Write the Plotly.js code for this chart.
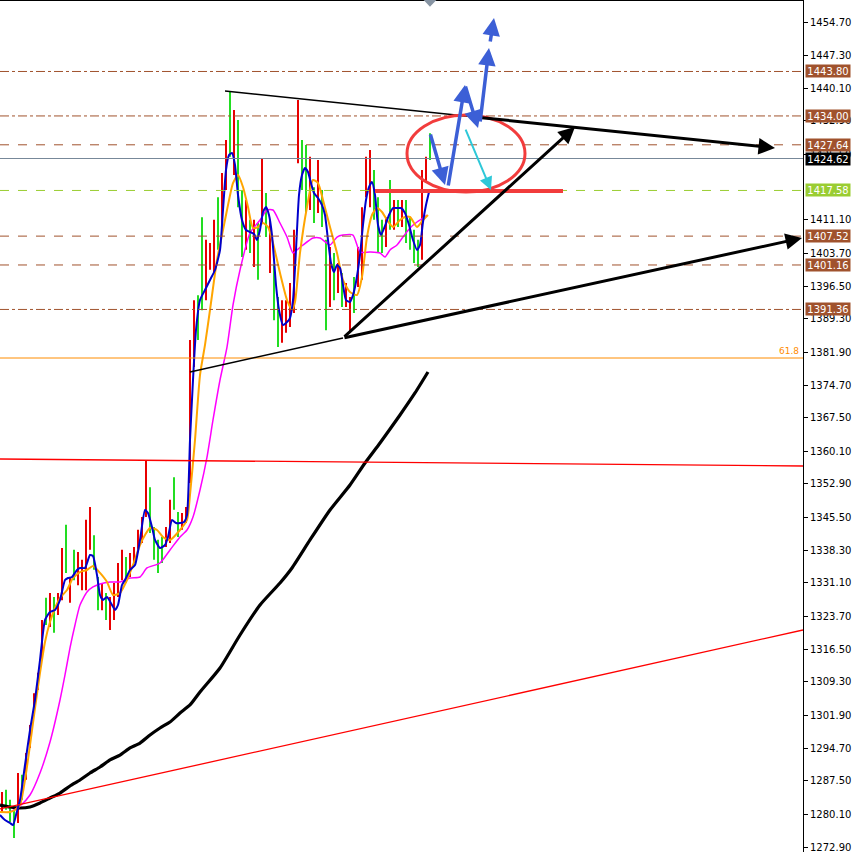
<!DOCTYPE html>
<html><head><meta charset="utf-8">
<script src="https://cdn.plot.ly/plotly-3.0.1.min.js"></script>
<style>html,body{margin:0;padding:0;background:#fff;}#chart{width:852px;height:852px;}</style>
</head><body><div id="chart"></div>
<script>
// ---- price bars ----
const barHigh = [1285.0,1285.5,1283.3,1281.1,1289.2,1288.8,1293.6,1299.8,1306.8,1311.3,
1322.9,1327.8,1328.9,1328.0,1328.9,1338.8,1343.9,1332.2,1338.4,1337.9,
1336.2,1345.0,1347.8,1341.6,1332.4,1331.1,1328.9,1328.0,1331.1,1335.5,
1338.4,1336.8,1337.7,1339.0,1342.8,1345.6,1358.2,1352.2,1343.4,1340.6,
1341.2,1343.4,1349.4,1354.4,1346.7,1346.5,1347.8,1384.6,1393.4,1394.5,
1411.7,1406.7,1406.0,1411.1,1416.1,1421.4,1428.7,1439.3,1435.3,1433.1,
1417.7,1415.5,1411.1,1411.1,1410.4,1424.7,1417.0,1411.1,1401.2,1394.1,
1393.4,1393.4,1397.2,1408.9,1437.5,1428.7,1427.6,1425.0,1418.3,1424.3,
1417.7,1406.7,1405.1,1403.8,1401.6,1399.4,1397.2,1394.1,1398.5,1405.1,
1413.9,1425.0,1426.5,1422.1,1416.1,1411.1,1411.7,1419.9,1415.5,1415.5,
1415.5,1415.5,1411.7,1408.9,1406.7,1422.1,1425.0,1430.2];
const barLow = [1280.4,1281.1,1278.4,1274.9,1278.2,1283.3,1287.7,1294.7,1302.4,1307.5,
1314.1,1321.8,1321.4,1320.1,1324.0,1327.3,1333.3,1326.7,1331.7,1330.6,
1329.5,1329.5,1338.4,1334.0,1325.1,1325.1,1322.9,1320.7,1322.9,1328.0,
1331.7,1331.1,1332.4,1335.5,1338.4,1339.9,1345.6,1342.1,1336.2,1333.3,
1335.5,1339.0,1339.9,1347.2,1341.2,1342.8,1344.3,1353.1,1378.7,1384.6,
1391.2,1393.4,1400.1,1399.4,1404.5,1408.2,1417.7,1425.0,1421.0,1413.9,
1402.9,1404.5,1403.8,1400.7,1397.9,1410.4,1407.3,1399.4,1389.0,1383.1,
1384.0,1386.2,1387.5,1390.6,1423.6,1417.7,1412.6,1413.3,1410.4,1412.6,
1409.5,1386.8,1391.9,1393.4,1395.0,1391.9,1391.9,1386.2,1390.6,1396.3,
1397.9,1416.1,1413.9,1411.1,1403.8,1403.8,1405.1,1408.9,1408.9,1409.5,
1409.5,1406.0,1404.5,1401.6,1400.7,1402.3,1419.2,1424.3];
const barOpen = [1281.5,1284.5,1282.5,1280.0,1279.5,1288.0,1288.5,1295.5,1303.0,1308.0,
1315.5,1326.5,1322.5,1327.0,1325.0,1328.5,1342.0,1327.5,1337.0,1331.5,
1330.5,1331.0,1339.5,1340.5,1331.5,1326.0,1328.0,1321.5,1324.0,1329.0,
1332.5,1336.0,1333.0,1336.0,1339.0,1340.5,1346.5,1351.0,1342.5,1339.5,
1340.5,1339.5,1341.0,1353.5,1346.0,1343.5,1345.0,1355.0,1380.0,1393.5,
1410.0,1395.0,1401.0,1401.0,1415.0,1410.0,1419.0,1437.0,1423.0,1431.0,
1416.0,1406.0,1410.0,1402.0,1409.0,1412.0,1416.0,1401.0,1400.0,1393.0,
1385.0,1387.0,1388.5,1392.0,1425.0,1427.5,1426.0,1414.5,1417.5,1414.0,
1417.0,1405.0,1393.0,1402.5,1396.0,1398.5,1392.5,1387.0,1397.5,1397.5,
1399.5,1417.0,1415.0,1421.0,1415.0,1410.0,1406.0,1418.5,1410.0,1414.5,
1410.5,1414.5,1410.5,1408.0,1406.0,1403.5,1420.0,1429.5];
const barClose = [1284.0,1282.0,1279.5,1276.5,1288.0,1284.5,1292.5,1299.0,1306.0,1310.5,
1321.5,1323.0,1327.5,1321.5,1328.0,1337.0,1335.0,1331.0,1333.0,1336.5,
1335.0,1343.0,1346.0,1335.0,1326.0,1330.0,1324.0,1327.0,1330.0,1334.5,
1337.5,1332.0,1337.0,1338.5,1342.0,1345.0,1356.0,1343.5,1337.0,1334.5,
1336.5,1343.0,1348.0,1348.0,1342.0,1346.0,1347.0,1382.0,1392.0,1386.0,
1393.0,1405.0,1405.0,1410.0,1406.0,1420.0,1427.0,1427.0,1433.0,1416.0,
1405.0,1414.0,1405.0,1409.5,1399.5,1423.0,1408.5,1410.0,1390.5,1384.5,
1392.0,1392.5,1396.0,1407.0,1436.0,1419.0,1414.0,1424.0,1411.5,1423.0,
1410.5,1389.0,1404.0,1394.5,1400.5,1393.0,1396.5,1393.0,1391.5,1404.0,
1412.5,1424.0,1425.0,1412.5,1405.0,1405.0,1411.0,1410.0,1414.5,1410.5,
1414.5,1407.0,1405.5,1402.5,1401.5,1420.5,1424.5,1424.62];

// ---- moving averages (x in bar units) ----
const maBlueX = [-0.5,0.75,2,2.75,3.5,4.5,5.75,7,8.25,9.5,10.75,12,13.25,14.5,15.75,16.5,17.5,18.75,19.5,20.75,22,22.75,23.75,24.5,25.25,26.25,27.5,28.25,29,30,30.75,32,33.25,34.5,35.75,36.5,37.5,38.25,39.5,40.75,41.5,42.5,43.5,44.5,45.5,46.25,47,47.75,48.5,49.5,50.75,52,53.25,54.5,55.25,56,56.75,57.5,58.25,59,60,61,62,63,63.75,64.5,65.25,66,66.75,67.5,68.5,69.25,70.25,71.25,72,72.75,73.5,74.25,75,75.75,76.5,77.25,78,79,80,80.75,81.5,82.25,83,83.75,84.5,85.25,86,87,87.75,88.5,89.5,90.25,91,91.75,92.5,93.25,94,94.75,95.75,96.75,97.75,98.75,99.75,100.75,101.75,102.75,103.75,104.5,105.25,106,106.75];
const maBlueY = [1279.96,1278.85,1278.19,1277.75,1279.96,1283.26,1290.97,1298.68,1305.30,1314.11,1322.93,1324.69,1325.13,1327.33,1331.74,1332.18,1332.40,1333.95,1334.39,1334.39,1337.25,1337.03,1332.85,1328.44,1327.33,1328.00,1326.23,1325.13,1326.23,1330.64,1331.74,1333.95,1335.05,1340.56,1347.17,1346.51,1343.42,1340.56,1338.79,1339.45,1341.22,1344.96,1344.30,1344.30,1344.52,1346.06,1362.59,1375.81,1386.83,1393.44,1395.65,1397.85,1400.05,1404.46,1413.27,1422.09,1425.39,1425.84,1423.19,1416.58,1411.07,1408.87,1408.43,1407.99,1406.66,1408.87,1412.83,1413.93,1412.17,1407.76,1396.75,1391.24,1387.93,1388.59,1389.47,1393.44,1404.46,1416.58,1420.99,1422.53,1421.65,1419.22,1417.02,1415.92,1414.37,1412.17,1406.66,1401.60,1399.61,1401.16,1400.49,1396.75,1393.44,1393.00,1394.54,1397.41,1403.36,1409.97,1415.48,1418.34,1419.44,1416.58,1409.97,1407.76,1409.75,1412.17,1413.71,1413.71,1413.71,1412.61,1409.97,1406.66,1404.46,1405.56,1410.63,1414.37,1417.24];
const maOrangeX = [-0.5,2,3.25,4.5,5.75,7,8.25,9.5,10.75,12,13.25,14.5,16.25,17.75,19.5,21.25,22.75,24.5,26.25,27.75,29.5,31.25,32.75,34.5,35.75,37,38.75,40.25,42,44.5,46.25,47,48.25,49.5,50.75,52,53.75,55,56.25,57.75,59,60.25,61.5,62.75,64,65.25,66.5,67.75,69.5,71.25,72.5,73.25,74.5,76.25,77.75,79,80.25,82,83.75,85.25,87,88.75,90,91.25,92.5,93.75,95,96.25,97.75,99.5,100.75,102,103.75,105.25,106.5];
const maOrangeY = [1280.62,1280.62,1281.06,1282.16,1287.67,1295.38,1303.53,1311.25,1318.08,1322.49,1325.57,1327.78,1329.54,1332.18,1333.50,1333.95,1334.83,1333.29,1331.30,1328.44,1328.88,1331.74,1335.05,1339.45,1341.66,1343.20,1342.76,1341.22,1340.56,1342.76,1344.96,1350.47,1362.59,1376.91,1383.53,1391.24,1402.26,1407.76,1413.27,1419.22,1420.99,1418.34,1413.93,1409.31,1409.53,1410.41,1409.53,1406.00,1399.39,1393.44,1391.24,1393.00,1403.80,1413.93,1419.89,1419.22,1415.48,1409.53,1403.80,1397.85,1395.20,1394.54,1398.51,1407.32,1412.17,1413.71,1412.83,1411.07,1409.53,1411.07,1411.73,1411.73,1409.53,1411.07,1412.17];
const maMagentaX = [2,4.5,7,9.5,12,14.5,15.75,17,18.25,19.5,21.25,22.75,24.5,27,29.5,32,34.5,36.25,39.5,42,44.5,46.25,47.75,49.5,51.25,52.75,54.5,56.25,57.75,59.5,62,64.5,66.25,67.75,69.5,71.25,72.75,73.75,75.25,77.75,79.5,82,83.75,85.25,87.75,89.5,92,94.5,95.75,97,98.75,100.25,102,103.75,105.25,106.25];
const maMagentaY = [1280.62,1281.94,1284.36,1289.21,1296.04,1305.30,1310.81,1316.76,1321.83,1326.23,1329.10,1330.20,1330.86,1331.30,1331.30,1332.18,1332.40,1334.39,1335.49,1338.35,1341.22,1342.76,1345.63,1351.57,1358.84,1367.00,1375.81,1383.08,1392.34,1400.05,1408.21,1411.07,1413.27,1413.27,1410.41,1407.32,1403.80,1404.46,1405.56,1407.11,1407.11,1405.56,1407.32,1407.76,1407.76,1404.02,1404.02,1403.80,1402.92,1404.46,1405.56,1407.32,1409.31,1410.63,1411.51,1412.17];
const maBlackX = [-0.5,2,4.5,7,9.5,12,14.5,17,19.5,22,24.5,27,29.5,32,34.5,37,39.5,42,44.5,47,49.5,54.5,59.5,64.5,69.5,72.5,77,82,87,90.75,94.5,99.5,103.25,106.5];
const maBlackY = [1282.16,1281.72,1281.50,1281.72,1282.60,1283.70,1284.80,1286.35,1287.67,1289.21,1290.53,1292.08,1293.17,1294.72,1295.81,1297.58,1299.13,1300.45,1302.43,1304.20,1307.06,1312.35,1319.62,1326.23,1331.08,1334.39,1340.56,1347.17,1352.68,1357.53,1361.94,1368.11,1372.96,1377.58];

// ---- price levels ----
const levelPrices = [1443.80, 1434.00, 1427.64, 1407.52, 1401.16, 1391.36];
const levelDash = ['dashdot','dashdot','dash','dash','dash','dashdot'];
const greenLevel = 1417.58;
const bidPrice = 1424.62;
const fibPrice = 1380.66;
const fibText = '61.8';
const tickVals = [1272.90,1280.10,1287.50,1294.70,1301.90,1309.30,1316.50,1323.70,1331.10,1338.30,1345.50,1352.90,1360.10,1367.50,1374.70,1381.90,1389.30,1396.50,1403.70,1411.10,1425.50,1432.90,1440.10,1447.30,1454.70];

// ---- drawn objects (bar units, price) ----
const redFlatLine = {x:[-0.5,200.25], y:[1358.40,1356.86]};
const redRiseLine = {x:[-0.5,200.25], y:[1281.28,1320.72]};
const topThin = {x:[55.75,119.5], y:[1439.50,1433.66]};
const topArrow = {x:[119.5,193.25], y:[1433.66,1426.94]};
const lowThin = {x:[47,85.25], y:[1377.58,1385.07]};
const lowArrow = {x:[85.25,200], y:[1385.07,1407.11]};
const riseArrow = {x:[85.25,143.25], y:[1385.07,1431.56]};
const blueArrows = [
  {x:[107,110.75], y:[1430.24,1418.78]},
  {x:[111.5,115.75], y:[1418.34,1440.82]},
  {x:[115.75,119], y:[1440.82,1431.34]},
  {x:[119.5,121.75], y:[1432.45,1448.97]},
  {x:[122,123], y:[1450.07,1455.58]}
];
const cyanArrow = {x:[115.75,122.25], y:[1431.34,1417.68]};
const ellipse = {x:[101.25,130.75], y:[1417.24,1434.21]};
const redBase = {x:[93.25,140.25], y:[1417.46,1417.46]};
const topMarkerX = 107;

const SIENNA = '#a0522d';
const FONT = 'DejaVu Sans';

const traces = [
  {type:'ohlc', open:barOpen, high:barHigh, low:barLow, close:barClose, tickwidth:0,
   increasing:{line:{color:'#e80000', width:2}}, decreasing:{line:{color:'#22dd22', width:2}},
   hoverinfo:'skip'},
  {type:'scatter', mode:'lines', x:maBlackX, y:maBlackY, line:{color:'#000', width:3.2, shape:'spline', smoothing:0.6}, hoverinfo:'skip'},
  {type:'scatter', mode:'lines', x:maMagentaX, y:maMagentaY, line:{color:'#ff00ff', width:1.5, shape:'spline', smoothing:0.6}, hoverinfo:'skip'},
  {type:'scatter', mode:'lines', x:maOrangeX, y:maOrangeY, line:{color:'#ffa500', width:2, shape:'spline', smoothing:0.6}, hoverinfo:'skip'},
  {type:'scatter', mode:'lines', x:maBlueX, y:maBlueY, line:{color:'#0000cc', width:2, shape:'spline', smoothing:0.5}, hoverinfo:'skip'}
];

const shapes = [];
levelPrices.forEach((p,i)=>shapes.push({type:'line', xref:'paper', x0:0, x1:1, yref:'y', y0:p, y1:p, layer:'above', line:{color:SIENNA, width:1, dash:levelDash[i]}}));
shapes.push({type:'line', xref:'paper', x0:0, x1:1, yref:'y', y0:greenLevel, y1:greenLevel, layer:'above', line:{color:'#9acd32', width:1, dash:'dash'}});
shapes.push({type:'line', xref:'paper', x0:0, x1:1, yref:'y', y0:bidPrice, y1:bidPrice, layer:'above', line:{color:'#778899', width:1}});
shapes.push({type:'line', xref:'paper', x0:0, x1:1, yref:'y', y0:fibPrice, y1:fibPrice, layer:'above', line:{color:'#ff8c00', width:1}});
function seg(o, color, w){ shapes.push({type:'line', xref:'x', yref:'y', x0:o.x[0], x1:o.x[1], y0:o.y[0], y1:o.y[1], layer:'above', line:{color:color, width:w}}); }
seg(redFlatLine, '#ff0000', 1.3);
seg(redRiseLine, '#ff0000', 1.3);
seg(topThin, '#000', 1.5);
seg(lowThin, '#000', 1.5);
seg(redBase, '#f23c3c', 4);
shapes.push({type:'circle', xref:'x', yref:'y', x0:ellipse.x[0], x1:ellipse.x[1], y0:ellipse.y[0], y1:ellipse.y[1], layer:'above', line:{color:'#f23c3c', width:3}});
shapes.push({type:'line', xref:'paper', yref:'paper', x0:0, x1:1, y0:1, y1:1, line:{color:'#000', width:2}});
shapes.push({type:'path', xref:'x', yref:'paper', path:`M ${topMarkerX-1.6},1 L ${topMarkerX+1.6},1 L ${topMarkerX},0.992 Z`, fillcolor:'#8794a3', line:{width:0}});

const annotations = [];
function arrow(o, color, w, size){
  annotations.push({xref:'x', yref:'y', axref:'x', ayref:'y', x:o.x[1], y:o.y[1], ax:o.x[0], ay:o.y[0], text:'', showarrow:true, arrowhead:2, arrowsize:size, arrowwidth:w, arrowcolor:color, standoff:0, startstandoff:0});
}
arrow(topArrow, '#000', 3, 1.1);
arrow(lowArrow, '#000', 3, 1.1);
arrow(riseArrow, '#000', 3, 1.1);
blueArrows.forEach(a=>arrow(a, '#3c5fd6', 3.5, 1.0));
arrow(cyanArrow, '#2ec8d8', 2, 1.3);

function priceBox(p, bg){
  annotations.push({xref:'paper', x:1, xanchor:'left', xshift:2, yref:'y', y:p, yanchor:'middle', text:p.toFixed(2), showarrow:false, bgcolor:bg, font:{family:FONT, size:10, color:'#fff'}, width:44, height:12, borderpad:0, align:'center'});
}
levelPrices.forEach(p=>priceBox(p, SIENNA));
priceBox(greenLevel, '#9acd32');
priceBox(bidPrice, '#000');
annotations.push({xref:'paper', x:1, xanchor:'right', xshift:-2, yref:'y', y:fibPrice, yanchor:'bottom', text:fibText, showarrow:false, font:{family:FONT, size:9, color:'#ff8c00'}});

const layout = {
  width:852, height:852, margin:{l:0, r:49, t:0, b:0},
  paper_bgcolor:'#fff', plot_bgcolor:'#fff', showlegend:false, hovermode:false,
  xaxis:{range:[-0.5,200.25], visible:false, fixedrange:true, rangeslider:{visible:false}},
  yaxis:{range:[1271.80,1459.55], side:'right', tickvals:tickVals, ticktext:tickVals.map(v=>v.toFixed(2)),
    ticks:'outside', ticklen:4, tickcolor:'#000', showline:true, linecolor:'#000', linewidth:1,
    ticklabeloverflow:'allow',
    showgrid:false, zeroline:false, fixedrange:true, tickfont:{family:FONT, size:10, color:'#000'}},
  shapes:shapes, annotations:annotations
};
Plotly.newPlot('chart', traces, layout, {staticPlot:true, displayModeBar:false});
</script></body></html>
